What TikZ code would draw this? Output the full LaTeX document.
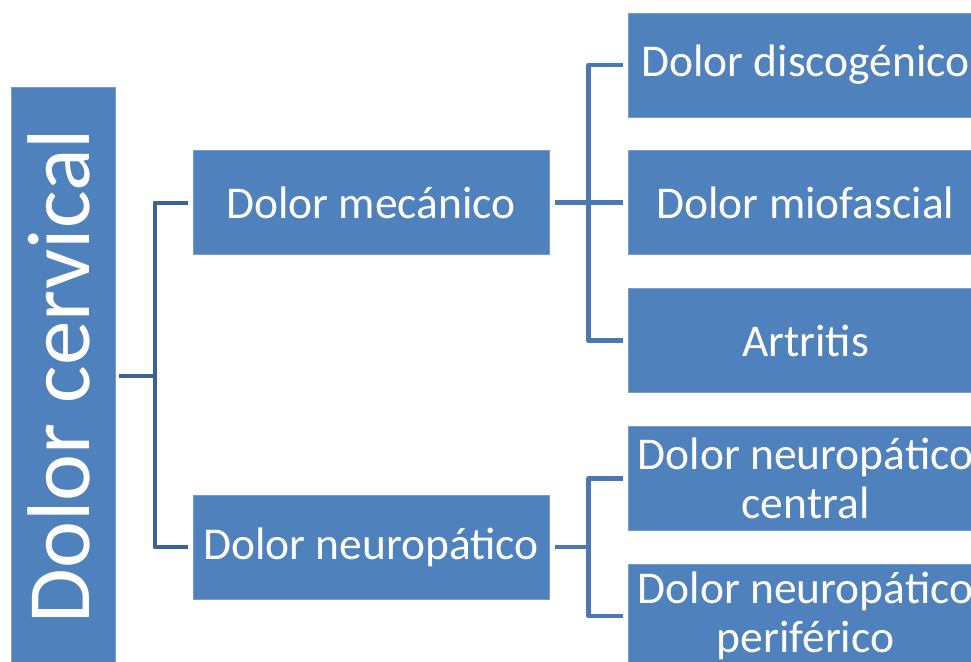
\documentclass[tikz,border=0pt]{standalone}
\usepackage{fontspec}
\setmainfont{Carlito}
\definecolor{boxfill}{HTML}{4F81BD}
\definecolor{boxline}{HTML}{7A9ACB}
\definecolor{connA}{HTML}{3B6293}
\definecolor{connB}{HTML}{4A78B4}
\begin{document}
\begin{tikzpicture}[x=1pt,y=-1pt,
  bx/.style={draw=boxline,line width=0.8pt,fill=boxfill,text=white,inner sep=0pt,
    minimum width=355pt,minimum height=104pt,align=center,
    font=\fontsize{45.5}{49}\selectfont},
  connL/.style={draw=connA,line width=4pt,line join=round},
  connR/.style={draw=connB,line width=4.5pt,line join=round}]
\useasboundingbox (0,0) rectangle (971,661);
\clip (0,0) rectangle (971,661);
% left box
\node[draw=boxline,line width=0.8pt,fill=boxfill,inner sep=0pt,minimum width=104pt,minimum height=578pt] (cerv) at (63,376) {};
\node[text=white,rotate=90,inner sep=0pt,font=\fontsize{89}{92}\selectfont] (cervtext) at ([xshift=-4pt]cerv.center) {Dolor cervical};
% middle boxes
\node[bx,minimum width=356pt] (mec) at (371,202.5) {Dolor mecánico};
\node[bx,minimum width=356pt] (neu) at (371,547) {Dolor neuropático};
% right boxes
\node[bx] (disc) at (805.5,65) {Dolor discogénico};
\node[bx] (mio) at (805.5,202.5) {Dolor miofascial};
\node[bx] (art) at (805.5,340.5) {Artritis};
\node[bx] (nc) at (805.5,478.5) {Dolor neuropático\\central};
\node[bx] (np) at (805.5,616) {Dolor neuropático\\periférico};
% junctions
\coordinate (j1) at (154.5,376);
\coordinate (j2) at (588.5,202.5);
\coordinate (j3) at (588.5,547);
% connectors
\draw[connL] ([xshift=4pt]cerv.east) -- (j1);
\draw[connL] ([xshift=-5pt]mec.west) -| (j1) |- ([xshift=-5pt]neu.west);
\draw[connR] ([xshift=6pt]mec.east) -- (j2);
\draw[connR] ([xshift=-5pt]mio.west) -- (j2);
\draw[connR] ([xshift=-5pt]disc.west) -| (j2) |- ([xshift=-5pt]art.west);
\draw[connR] ([xshift=6pt]neu.east) -- (j3);
\draw[connR] ([xshift=-5pt]nc.west) -| (j3) |- ([xshift=-5pt]np.west);
\end{tikzpicture}
\end{document}
